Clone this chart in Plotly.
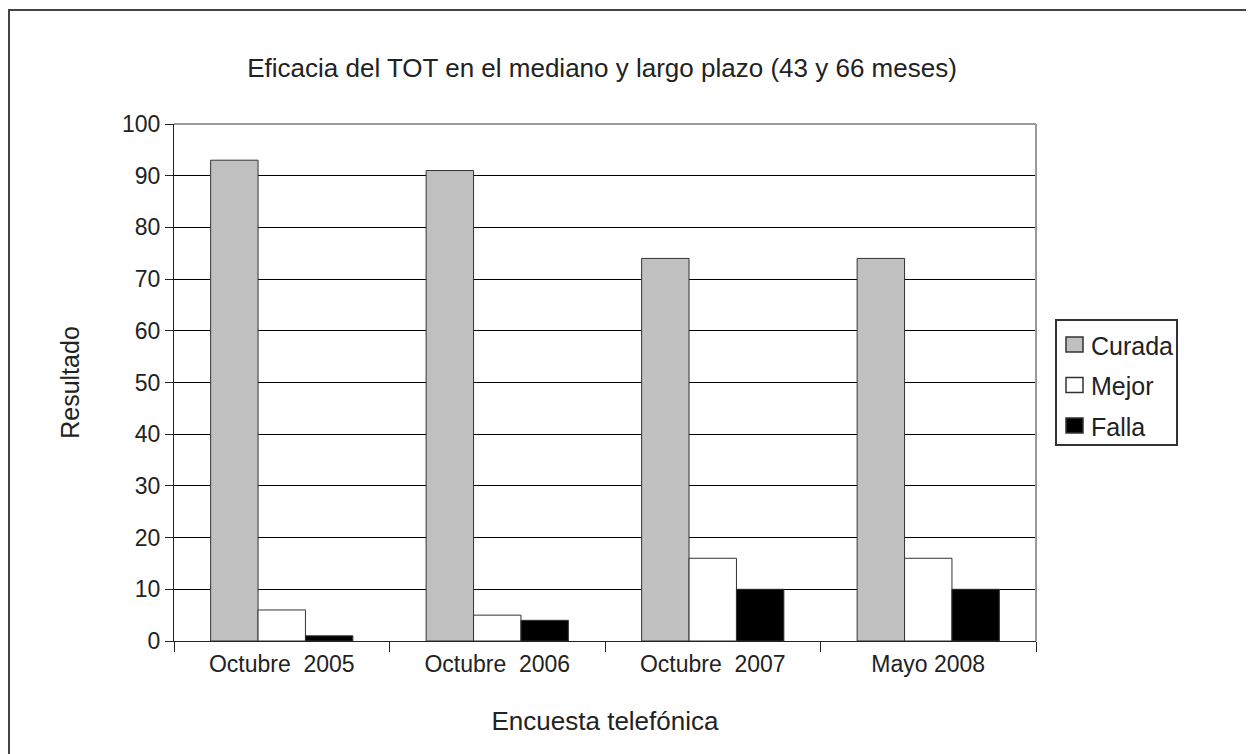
import plotly.graph_objects as go

categories = ["Octubre  2005", "Octubre  2006", "Octubre  2007", "Mayo 2008"]
series_names = ["Curada", "Mejor", "Falla"]
curada = [93, 91, 74, 74]
mejor = [6, 5, 16, 16]
falla = [1, 4, 10, 10]
yticks = [0, 10, 20, 30, 40, 50, 60, 70, 80, 90, 100]

colors = ["#c0c0c0", "#ffffff", "#000000"]

OFF = 8  # page body margin
W, H = 1254 - OFF, 754 - OFF
# target screen coordinates of plot area
L, R, T, B = 174, 1036, 124, 641
pw, ph = R - L, B - T

def px(x):
    return (x - L) / pw

def py(y):
    return (B - y) / ph

FONT = "Liberation Sans, Arial, sans-serif"
TXT = "#222222"
line = dict(color="#333333", width=1)

fig = go.Figure()
for name, vals, col in zip(series_names, [curada, mejor, falla], colors):
    fig.add_trace(go.Bar(name=name, x=categories, y=vals,
                         marker=dict(color=col, line=line), showlegend=False))

fig.update_layout(
    width=W, height=H,
    margin=dict(l=L - OFF, r=W + OFF - R, t=T - OFF, b=H + OFF - B, pad=0),
    paper_bgcolor="white", plot_bgcolor="white",
    barmode="group", bargap=0.34, bargroupgap=0,
    font=dict(family=FONT, size=23, color=TXT),
    title=dict(text="Eficacia del TOT en el mediano y largo plazo (43 y 66 meses)",
               x=(602 - OFF) / W, xanchor="center", y=1 - (68 - OFF) / H, yanchor="middle",
               font=dict(size=26, family=FONT, color=TXT)),
    showlegend=False,
    xaxis=dict(showgrid=False, showline=True, linecolor="#222222", linewidth=1,
               ticks="outside", ticklen=10, tickcolor="#222222", tickson="boundaries",
               tickfont=dict(size=23), ticklabelstandoff=2, mirror=False,
               title=dict(text="Encuesta telefónica", font=dict(size=26), standoff=36)),
    yaxis=dict(range=[0, 100], tickvals=yticks, showgrid=True, gridcolor="#000000", gridwidth=1,
               showline=True, linecolor="#222222", linewidth=1,
               ticks="outside", ticklen=8, tickcolor="#222222",
               tickfont=dict(size=23), zeroline=False,
               title=dict(text="Resultado", font=dict(size=25), standoff=35)),
)

# plot-area right and top border (gray)
fig.add_shape(type="line", xref="paper", yref="paper", x0=0, x1=1, y0=1, y1=1,
              line=dict(color="#999999", width=2), layer="above")
fig.add_shape(type="line", xref="paper", yref="paper", x0=1, x1=1, y0=0, y1=1,
              line=dict(color="#999999", width=2), layer="above")
# outer frame
fig.add_shape(type="rect", xref="paper", yref="paper",
              x0=px(9), x1=px(1254 + 20), y0=py(754 + 20), y1=py(10),
              line=dict(color="#444444", width=2), fillcolor="rgba(0,0,0,0)", layer="above")

# legend box
fig.add_shape(type="rect", xref="paper", yref="paper",
              x0=px(1056), x1=px(1177), y0=py(445), y1=py(320),
              line=dict(color="#333333", width=2), fillcolor="white", layer="above")
row_centers = [344.5, 385, 425.5]
for name, col, yc in zip(series_names, colors, row_centers):
    fig.add_shape(type="rect", xref="paper", yref="paper",
                  x0=px(1066), x1=px(1083), y0=py(yc + 7.5), y1=py(yc - 7.5),
                  line=dict(color="#333333", width=1.5), fillcolor=col, layer="above")
    fig.add_annotation(xref="paper", yref="paper", x=px(1089), y=py(yc + 1),
                       text=name, showarrow=False, xanchor="left", yanchor="middle",
                       font=dict(size=25, family=FONT, color=TXT))

fig.write_html("out.html")
